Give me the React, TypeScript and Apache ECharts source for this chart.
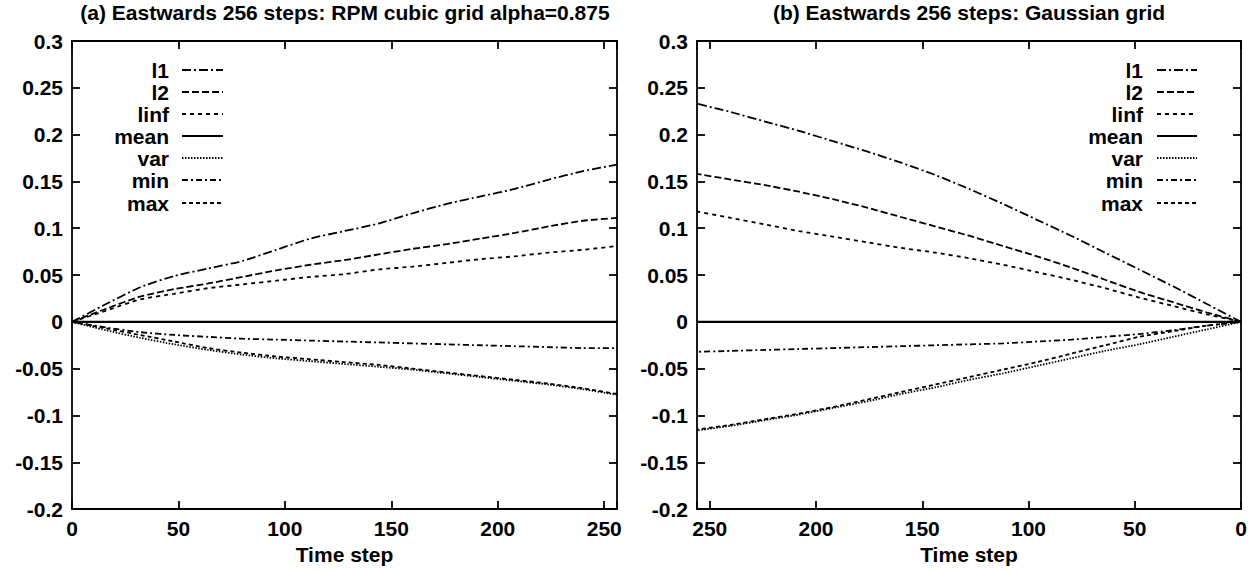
import React, { useEffect, useRef } from "react";
import * as echarts from "echarts";

// ---- data ----
const steps = [0, 16, 32, 48, 64, 80, 96, 112, 128, 144, 160, 176, 192, 208, 224, 240, 256];
const seriesNames = ["l1", "l2", "linf", "mean", "var", "min", "max"];
const titleA = "(a) Eastwards 256 steps: RPM cubic grid alpha=0.875";
const titleB = "(b) Eastwards 256 steps: Gaussian grid";
const xAxisName = "Time step";

// (a) RPM cubic grid
const rpmL1 = [0, 0.019, 0.037, 0.049, 0.057, 0.065, 0.077, 0.089, 0.097, 0.105, 0.116, 0.126, 0.134, 0.142, 0.152, 0.161, 0.168];
const rpmL2 = [0, 0.014, 0.027, 0.035, 0.041, 0.048, 0.055, 0.061, 0.066, 0.072, 0.078, 0.083, 0.089, 0.095, 0.102, 0.108, 0.111];
const rpmLinf = [0, 0.012, 0.024, 0.030, 0.036, 0.040, 0.044, 0.048, 0.051, 0.056, 0.059, 0.063, 0.067, 0.070, 0.074, 0.077, 0.081];
const rpmMean = [0, 0, 0, 0, 0, 0, 0, 0, 0, 0, 0, 0, 0, 0, 0, 0, 0];
const rpmVar = [0, -0.009, -0.017, -0.024, -0.030, -0.035, -0.039, -0.042, -0.045, -0.048, -0.051, -0.055, -0.059, -0.063, -0.067, -0.072, -0.078];
const rpmMin = [0, -0.006, -0.011, -0.014, -0.016, -0.018, -0.019, -0.020, -0.021, -0.022, -0.023, -0.024, -0.025, -0.026, -0.027, -0.028, -0.028];
const rpmMax = [0, -0.007, -0.014, -0.021, -0.028, -0.033, -0.037, -0.040, -0.043, -0.046, -0.050, -0.054, -0.058, -0.062, -0.066, -0.071, -0.077];

// (b) Gaussian grid
const gauL1 = [0, 0.019, 0.038, 0.056, 0.074, 0.092, 0.109, 0.126, 0.142, 0.157, 0.170, 0.182, 0.193, 0.204, 0.214, 0.224, 0.233];
const gauL2 = [0, 0.010, 0.021, 0.032, 0.045, 0.058, 0.070, 0.081, 0.092, 0.102, 0.112, 0.122, 0.131, 0.139, 0.146, 0.152, 0.158];
const gauLinf = [0, 0.008, 0.017, 0.026, 0.036, 0.045, 0.053, 0.061, 0.068, 0.074, 0.079, 0.085, 0.091, 0.097, 0.104, 0.111, 0.118];
const gauMean = [0, 0, 0, 0, 0, 0, 0, 0, 0, 0, 0, 0, 0, 0, 0, 0, 0];
const gauVar = [0, -0.008, -0.016, -0.024, -0.031, -0.039, -0.047, -0.055, -0.062, -0.070, -0.077, -0.085, -0.092, -0.099, -0.105, -0.111, -0.116];
const gauMin = [0, -0.004, -0.009, -0.013, -0.016, -0.019, -0.021, -0.023, -0.024, -0.025, -0.026, -0.027, -0.028, -0.029, -0.030, -0.031, -0.032];
const gauMax = [0, -0.004, -0.010, -0.016, -0.025, -0.034, -0.043, -0.051, -0.059, -0.067, -0.075, -0.083, -0.091, -0.098, -0.104, -0.110, -0.115];

const panelA = [rpmL1, rpmL2, rpmLinf, rpmMean, rpmVar, rpmMin, rpmMax];
const panelB = [gauL1, gauL2, gauLinf, gauMean, gauVar, gauMin, gauMax];

// ---- styles ----
const FONT = '"Liberation Sans", Arial, Helvetica, sans-serif';
const FS = 21;
const FW = "bold";
const dashTypes: any[] = [[9, 3, 2, 3], [7, 3], [4, 4], "solid", [1.5, 1.5], [6, 3, 2, 3], [4, 3]];

const fmtY = (v: number) => {
  if (Math.abs(v) < 1e-9) return "0";
  return String(parseFloat(v.toFixed(2)));
};

export default function App() {
  const ref = useRef<HTMLDivElement>(null);
  useEffect(() => {
    document.body.style.margin = "0";
    if (!ref.current) return;
    const chart = echarts.init(ref.current, undefined, { renderer: "svg" });

    const grids = [
      { left: 72, top: 41, width: 545, height: 471 },
      { left: 697, top: 41, width: 544, height: 471 },
    ];
    const axisLine = { onZero: false, lineStyle: { color: "#000", width: 1.8 } };
    const axisTick = { inside: true, length: 8, lineStyle: { color: "#000", width: 1.8 } };
    const labelStyle = { color: "#000", fontSize: FS, fontFamily: FONT, fontWeight: FW };

    const xAxes: any[] = [];
    const yAxes: any[] = [];
    [0, 1].forEach((g) => {
      const inv = g === 1;
      xAxes.push({
        gridIndex: g, type: "value", min: 0, max: 256, interval: 50, inverse: inv, position: "bottom",
        axisLine, axisTick, splitLine: { show: false },
        axisLabel: { ...labelStyle, margin: 9, formatter: (v: number) => (v % 50 === 0 ? String(v) : "") },
        name: xAxisName, nameLocation: "middle", nameGap: 33,
        nameTextStyle: { ...labelStyle },
      });
      xAxes.push({
        gridIndex: g, type: "value", min: 0, max: 256, interval: 50, inverse: inv, position: "top",
        axisLine, axisTick, splitLine: { show: false }, axisLabel: { show: false },
      });
      yAxes.push({
        gridIndex: g, type: "value", min: -0.2, max: 0.3, interval: 0.05, position: "left",
        axisLine, axisTick, splitLine: { show: false },
        axisLabel: { ...labelStyle, margin: 9, formatter: fmtY },
      });
      yAxes.push({
        gridIndex: g, type: "value", min: -0.2, max: 0.3, interval: 0.05, position: "right",
        axisLine, axisTick, splitLine: { show: false }, axisLabel: { show: false },
      });
    });

    const series: any[] = [];
    [panelA, panelB].forEach((panel, g) => {
      panel.forEach((vals, i) => {
        series.push({
          type: "line",
          name: seriesNames[i] + (g ? " (b)" : " (a)"),
          xAxisIndex: g * 2,
          yAxisIndex: g * 2,
          data: steps.map((s, k) => [s, vals[k]]),
          symbol: "none",
          smooth: 0.2,
          silent: true,
          lineStyle: { color: "#000", width: i === 3 ? 2.2 : 1.8, type: dashTypes[i] },
        });
      });
    });

    const rowY = [70, 92, 114, 136, 158, 180, 203];
    const legends = [
      { textRight: 169, lineX1: 182, lineX2: 223 },
      { textRight: 1143, lineX1: 1157, lineX2: 1197 },
    ];
    const font = `${FW} ${FS}px ${FONT}`;
    const graphic: any[] = [];
    graphic.push({
      type: "text", x: 345, y: 12,
      style: { text: titleA, font, fill: "#000", textAlign: "center", textVerticalAlign: "middle", align: "center", verticalAlign: "middle" },
    });
    graphic.push({
      type: "text", x: 969, y: 12,
      style: { text: titleB, font, fill: "#000", textAlign: "center", textVerticalAlign: "middle", align: "center", verticalAlign: "middle" },
    });
    legends.forEach((lg) => {
      seriesNames.forEach((n, i) => {
        graphic.push({
          type: "text", x: lg.textRight, y: rowY[i],
          style: { text: n, font, fill: "#000", textAlign: "right", textVerticalAlign: "middle", align: "right", verticalAlign: "middle" },
        });
        graphic.push({
          type: "line",
          shape: { x1: lg.lineX1, y1: rowY[i], x2: lg.lineX2, y2: rowY[i] },
          style: { stroke: "#000", lineWidth: i === 3 ? 2.2 : 1.8, lineDash: dashTypes[i] === "solid" ? null : dashTypes[i] },
        });
      });
    });

    chart.setOption({
      animation: false,
      backgroundColor: "#fff",
      grid: grids,
      xAxis: xAxes,
      yAxis: yAxes,
      series,
      graphic,
    });
    return () => chart.dispose();
  }, []);
  return <div ref={ref} style={{ width: 1259, height: 570 }} />;
}
